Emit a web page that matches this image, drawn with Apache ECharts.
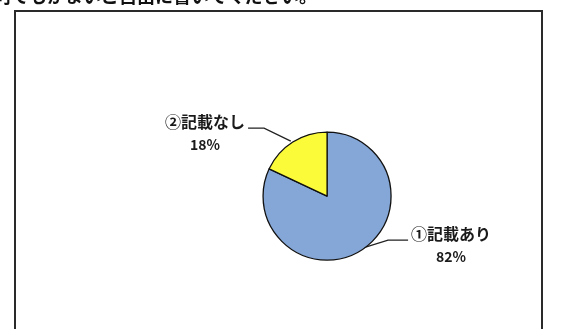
<!DOCTYPE html>
<html>
<head>
<meta charset="utf-8">
<script src="https://cdn.jsdelivr.net/npm/echarts@6/dist/echarts.min.js"></script>
<style>
html,body{margin:0;padding:0;background:#fff;}
#c{width:561px;height:329px;}
</style>
</head>
<body>
<div id="c"></div>
<script>
const titleText = '何でもかまいご自由に書いてください。';
const categories = ['①記載あり', '②記載なし'];
const values = [82, 18];
const colors = ['#84a7d8', '#fbfb3a'];

const chart = echarts.init(document.getElementById('c'), null, {renderer: 'canvas'});

const centerPct = [58.3, 59.6];
const radiusPx = 64;
const total = values.reduce((a, b) => a + b, 0);

function midAngleDeg(idx) {
  let acc = 0;
  for (let i = 0; i < idx; i++) acc += values[i];
  return (acc + values[idx] / 2) / total * 360;
}

const labelOffsets = [[124, 48], [-122, -64]];

chart.setOption({
  animation: false,
  title: {
    text: titleText,
    left: -12,
    top: -18,
    textStyle: {fontSize: 18, fontWeight: 'bold', color: '#111', fontFamily: 'Noto Sans CJK JP'}
  },
  graphic: [{
    type: 'rect',
    shape: {x: 15, y: 11, width: 527, height: 340},
    style: {fill: 'none', stroke: '#2a2a2a', lineWidth: 2},
    silent: true
  }],
  series: [{
    type: 'pie',
    center: [centerPct[0] + '%', centerPct[1] + '%'],
    radius: radiusPx,
    startAngle: 90,
    clockwise: true,
    avoidLabelOverlap: false,
    itemStyle: {borderColor: '#111', borderWidth: 1.3},
    label: {
      show: true,
      position: 'outside',
      formatter: '{n|{b}}\n{p|{d}%}',
      align: 'center',
      rich: {
        n: {fontSize: 16, color: '#1a1a1a', fontWeight: 'bold', fontFamily: 'Noto Sans CJK JP', lineHeight: 26, align: 'center'},
        p: {fontSize: 14, color: '#1a1a1a', fontWeight: 'bold', fontFamily: 'Noto Sans CJK JP', lineHeight: 20, align: 'center'}
      }
    },
    labelLine: {show: true, lineStyle: {color: '#222', width: 1.3}},
    labelLayout: function (params) {
      const i = params.dataIndex;
      const W = chart.getWidth(), H = chart.getHeight();
      const cx = W * centerPct[0] / 100, cy = H * centerPct[1] / 100;
      const lx = cx + labelOffsets[i][0], ly = cy + labelOffsets[i][1];
      const lr = params.labelRect;
      const a = midAngleDeg(i) * Math.PI / 180;
      const ex = cx + radiusPx * Math.sin(a), ey = cy - radiusPx * Math.cos(a);
      const y1 = ly - lr.height / 2 + 15;
      let pts;
      if (lx > cx) {
        const left = lx - lr.width / 2 - 3;
        pts = [[ex + 1, ey - 2], [left - 20, y1], [left, y1]];
      } else {
        const right = lx + lr.width / 2 + 3;
        pts = [[ex - 2, ey - 1], [right + 16, y1], [right, y1]];
      }
      return {x: lx, y: ly, align: 'center', verticalAlign: 'middle', labelLinePoints: pts};
    },
    data: categories.map((c, i) => ({name: c, value: values[i], itemStyle: {color: colors[i]}}))
  }]
});
</script>
</body>
</html>
